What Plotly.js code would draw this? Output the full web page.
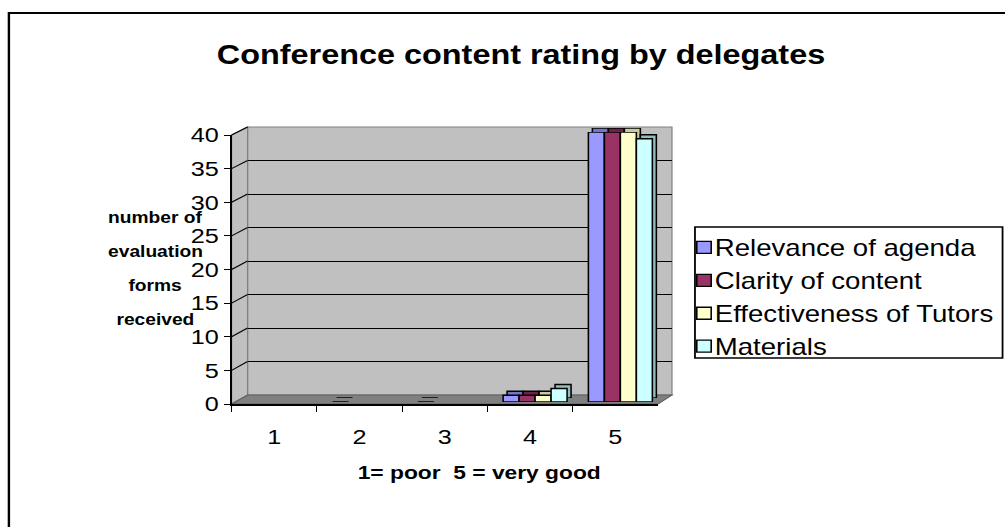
<!DOCTYPE html>
<html><head><meta charset="utf-8">
<script src="https://cdn.plot.ly/plotly-3.0.1.min.js"></script>
<style>
html,body{margin:0;padding:0;overflow:hidden;background:#fff;width:1005px;height:527px}
#chart{width:837.5px;height:527px;transform:scaleX(1.2);transform-origin:0 0}
</style>
</head><body><div id="chart"></div>
<script>
// ---- data ----
const categories = ['1','2','3','4','5'];
const relevance = [null, 0, 0, 1, 40];
const clarity = [null, null, null, 1, 40];
const effectiveness = [null, null, null, 1, 40];
const materials = [null, null, null, 2, 39];
const seriesNames = ['Relevance of agenda','Clarity of content','Effectiveness of Tutors','Materials'];
const yTicks = [0,5,10,15,20,25,30,35,40];
const yTitleLines = ['number of','evaluation','forms','received'];
const chartTitle = 'Conference content rating by delegates';
const xTitle = '1= poor\u00a0\u00a05 = very good';

// ---- styling ----
const faceColors = ['#9999FF','#993366','#FFFFCC','#CCFFFF'];
const depthColors = ['#7474C8','#6A2247','#C9C99F','#93BDBD'];
const FONT = 'Liberation Sans, Arial, sans-serif';
const S = 1.2, FW = 1005, FH = 527;
const L = 231, R = 672, T = 127, B = 404;
const px = x => (x - L) / (R - L);
const py = y => (B - y) / (B - T);

const seriesValues = [relevance, clarity, effectiveness, materials];
const traces = [];
traces.push({type:'scatter', mode:'none', x:[], y:[], xaxis:'x', yaxis:'y', showlegend:false, hoverinfo:'skip'});
traces.push({type:'scatter', mode:'none', x:categories, y:categories.map(()=>null), xaxis:'x2', yaxis:'y2', showlegend:false, hoverinfo:'skip'});
seriesValues.forEach((vals, i) => {
  traces.push({type:'bar', x:categories, y:vals, xaxis:'x3', yaxis:'y3', showlegend:false,
    marker:{color:depthColors[i], line:{color:'#000', width:1.3}}, hoverinfo:'skip'});
});
seriesValues.forEach((vals, i) => {
  traces.push({type:'bar', name:seriesNames[i], x:categories, y:vals, xaxis:'x4', yaxis:'y4',
    marker:{color:faceColors[i], line:{color:'#000', width:1.3}}});
});

const hiddenCat = (dom, anchor) => ({domain:dom, anchor:anchor, type:'category', categoryorder:'array',
  categoryarray:categories, range:[-0.5,4.5], visible:false, fixedrange:true});
const hiddenLin = (dom, anchor) => ({domain:dom, anchor:anchor, range:[0,40], visible:false, fixedrange:true});

// wall shapes
const P = (x, y) => px(x) + ',' + py(y);
const shapes = [
  {type:'rect', xref:'paper', yref:'paper', x0:px(8), y0:py(13), x1:px(1015), y1:py(540),
   line:{color:'#000', width:2}, fillcolor:'rgba(0,0,0,0)', layer:'below'},
  {type:'rect', xref:'paper', yref:'paper', x0:px(247), y0:py(395), x1:px(672), y1:py(127),
   line:{color:'#808080', width:1}, fillcolor:'#C0C0C0', layer:'below'},
  {type:'path', xref:'paper', yref:'paper', path:'M'+P(231,404)+'L'+P(231,135)+'L'+P(247,127)+'L'+P(247,395)+'Z',
   line:{color:'#808080', width:1}, fillcolor:'#C0C0C0', layer:'below'},
  {type:'path', xref:'paper', yref:'paper', path:'M'+P(231,404)+'L'+P(247,395)+'L'+P(672,395)+'L'+P(658,404)+'Z',
   line:{color:'#606060', width:1}, fillcolor:'#808080', layer:'below'},
  {type:'rect', xref:'paper', yref:'paper', x0:px(695), y0:py(227), x1:px(1003), y1:py(358),
   line:{color:'#000', width:1.5}, fillcolor:'#fff', layer:'below'}
];
yTicks.forEach(v => {
  if (v === 0) return;
  const yf = 404 - v * (404 - 135) / 40;
  const yb = 395 - v * (395 - 127) / 40;
  shapes.push({type:'line', xref:'paper', yref:'paper', x0:px(231), y0:py(yf), x1:px(247), y1:py(yb),
    line:{color:'#000', width:1}, layer:'below'});
});

const annotations = yTitleLines.map((t, i) => ({
  xref:'paper', yref:'paper', x:px(155), y:py(217 + i * 34), xanchor:'center', yanchor:'middle',
  showarrow:false, text:'<b>' + t + '</b>', font:{family:FONT, size:16, color:'#000'}
}));
annotations.push({xref:'paper', yref:'paper', x:px(479), y:py(472), xanchor:'center', yanchor:'middle',
  showarrow:false, text:'<b>' + xTitle + '</b>', font:{family:FONT, size:19, color:'#000'}});

const layout = {
  width: FW / S, height: FH,
  margin:{l:L / S, r:(FW - R) / S, t:T, b:FH - B, pad:0, autoexpand:false},
  paper_bgcolor:'#fff', plot_bgcolor:'rgba(0,0,0,0)',
  font:{family:FONT, color:'#000'},
  title:{text:'<b>' + chartTitle + '</b>', font:{family:FONT, size:27, color:'#000'},
    xref:'container', yref:'container', x:521 / FW, y:1 - 55 / FH, xanchor:'center', yanchor:'middle'},
  barmode:'group', bargap:0.25, bargroupgap:0,
  showlegend:true,
  legend:{x:px(680), y:py(226), xanchor:'left', yanchor:'top', bgcolor:'rgba(0,0,0,0)', borderwidth:0,
    font:{family:FONT, size:23, color:'#000'}, traceorder:'normal'},
  xaxis:{domain:[px(247), 1], anchor:'y', type:'category', categoryorder:'array', categoryarray:categories,
    range:[-0.5,4.5], showgrid:false, zeroline:false, showline:false, showticklabels:false, ticks:'', fixedrange:true},
  yaxis:{domain:[py(395), py(127)], anchor:'x', range:[0,40], tickmode:'array', tickvals:yTicks,
    showgrid:true, gridcolor:'#000', gridwidth:1, zeroline:false, showline:false, showticklabels:false, ticks:'', fixedrange:true},
  xaxis2:{domain:[0, px(658)], anchor:'y2', type:'category', categoryorder:'array', categoryarray:categories,
    range:[-0.5,4.5], showgrid:false, zeroline:false, showline:true, linecolor:'#000', linewidth:1.5,
    ticks:'outside', tickson:'boundaries', ticklen:6, tickcolor:'#000', tickwidth:1, ticklabelstandoff:13,
    tickfont:{family:FONT, size:21, color:'#000'}, fixedrange:true},
  yaxis2:{domain:[0, py(135)], anchor:'x2', range:[0,40], tickmode:'array', tickvals:yTicks,
    showgrid:false, zeroline:false, showline:true, linecolor:'#000', linewidth:1.5,
    ticks:'outside', ticklen:5, tickcolor:'#000', tickwidth:1,
    tickfont:{family:FONT, size:21, color:'#000'}, fixedrange:true},
  xaxis3:hiddenCat([px(240), px(667)], 'y3'),
  yaxis3:hiddenLin([py(398), py(128)], 'x3'),
  xaxis4:hiddenCat([px(236), px(663)], 'y4'),
  yaxis4:hiddenLin([py(402), py(132)], 'x4'),
  shapes: shapes,
  annotations: annotations
};

Plotly.newPlot('chart', traces, layout, {staticPlot:true, displayModeBar:false, responsive:false}).then(() => {
  // pull legend labels closer to their swatches, as in the reference
  document.querySelectorAll('#chart .legendtext').forEach(t => {
    const x = parseFloat(t.getAttribute('x')) || 0;
    t.setAttribute('x', x - 11);
  });
});
</script>
</body></html>
